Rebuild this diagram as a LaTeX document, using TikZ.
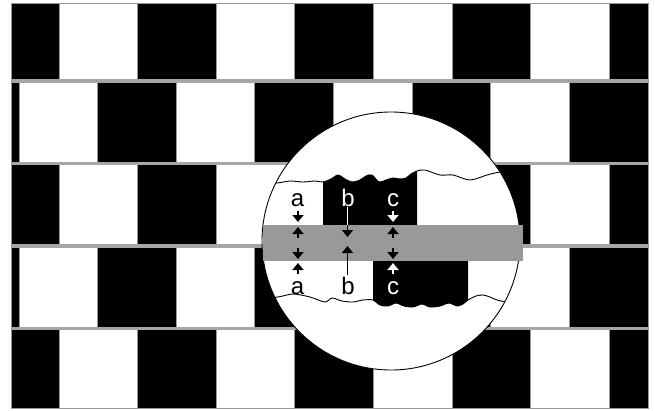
\documentclass[tikz,border=0pt]{standalone}
\usepackage{fontspec}
\setmainfont{Liberation Sans}
\usetikzlibrary{arrows.meta}
\begin{document}
\begin{tikzpicture}[x=1pt,y=-1pt,
  tile/.style={fill=black,draw=gray!80,line width=0.7pt},
  mortar/.style={draw=gray!70,line width=3.5pt},
  wavy/.style={draw=black,line width=0.9pt},
  lbl/.style={font=\fontsize{24}{24}\selectfont,inner sep=0pt,anchor=base},
  sarrow/.style={line width=2.2pt,-{Triangle[width=11pt,length=7pt]}},
  barrow/.style={line width=1.6pt,-{Triangle[width=11pt,length=7pt]}}]
\useasboundingbox (0,0) rectangle (655,410);
% wall
\fill[white] (11,3) rectangle (648,408);
\foreach \ya/\yb in {3/81,163.5/246,328.5/408}{
  \foreach \xa/\xb in {11/59,137.6/216.2,294.8/373.4,452/530.6,609.2/648}{
    \path[tile] (\xa,\ya) rectangle (\xb,\yb);}}
\foreach \ya/\yb in {81/163.5,246/328.5}{
  \foreach \xa/\xb in {11/19,97.6/176.2,254.8/333.4,412/490.6,569.2/648}{
    \path[tile] (\xa,\ya) rectangle (\xb,\yb);}}
\foreach \y in {81,163.5,246,328.5}{\draw[mortar] (11,\y) -- (648,\y);}
\draw[gray!80,line width=0.8pt] (11,3) rectangle (648,408);
% magnifier
\fill[white] (391,241) circle[radius=129pt];
\begin{scope}
\clip (391,241) circle[radius=129pt];
\fill (323,226) -- plot[smooth] coordinates {(323,182) (331,179) (338,175) (345,179) (352,182) (360,180) (366,176) (372,175) (379,182) (386,180) (393,178) (400,179) (406,178) (411,174) (417,171)} -- (417,226) -- cycle;
\fill (373,261) -- plot[smooth] coordinates {(373,300) (380,305) (388,306) (396,303) (404,306) (413,307) (422,304) (430,307) (440,306) (449,303) (457,306) (463,304) (468,300)} -- (468,261) -- cycle;
\draw[wavy] plot[smooth] coordinates {(258,184) (277,183) (290,181) (303,182) (315,181) (323,182) (331,179) (338,175) (345,179) (352,182) (360,180) (366,176) (372,175) (379,182) (386,180) (393,178) (400,179) (406,178) (411,174) (417,171) (425,170) (440,175) (453,175) (470,180) (487,175) (500,172) (524,169)};
\draw[wavy] plot[smooth] coordinates {(258,299) (278,297) (293,294) (310,297) (325,302) (332,298) (342,301) (353,302) (363,300) (373,300) (380,305) (388,306) (396,303) (404,306) (413,307) (422,304) (430,307) (440,306) (449,303) (457,306) (463,304) (468,300) (476,296) (483,295) (490,297) (497,300) (507,302) (524,303)};
\end{scope}
\draw[black,line width=0.9pt] (391,241) circle[radius=129pt];
\fill[gray!80] (263,225) rectangle (523,261);
% labels
\node[lbl,text=black] (at) at (297.5,206) {a};
\node[lbl,text=white] (bt) at (348,206) {b};
\node[lbl,text=white] (ct) at (393,206) {c};
\node[lbl,text=black] (ab) at (297.5,294) {a};
\node[lbl,text=black] (bb) at (348,294) {b};
\node[lbl,text=white] (cb) at (393,294) {c};
% arrows a
\draw[sarrow,black] (298,211) -- (298,222);
\draw[sarrow,black] (298,238) -- (298,227);
\draw[sarrow,black] (298,248) -- (298,259);
\draw[sarrow,black] (298,274) -- (298,263);
% arrows c
\draw[sarrow,white] (393,211) -- (393,222);
\draw[sarrow,black] (393,238) -- (393,227);
\draw[sarrow,black] (393,248) -- (393,259);
\draw[sarrow,white] (393,274) -- (393,263);
% arrows b
\coordinate (bm) at (347.5,225.5);
\draw[white,line width=1.6pt] (bt.south -| bm) ++(0,1) -- (bm);
\draw[barrow,black] (bm) ++(0,-1) -- (347.5,237);
\draw[barrow,black] (bb.north -| bm) ++(0,-1) -- (347.5,246);
\end{tikzpicture}
\end{document}
